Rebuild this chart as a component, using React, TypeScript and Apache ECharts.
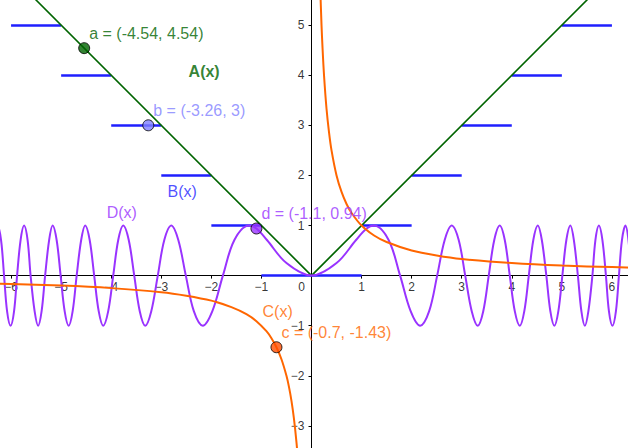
import React, { useEffect, useRef } from "react";
import * as echarts from "echarts";

// ---------- data ----------
// A(x) = |x|
const A_X = [-7, 0, 7];
const A_Y = [7, 0, 7];

// B(x): horizontal steps
const B_FROM = [-6, -5, -4, -3, -2, -1, 1, 2, 3, 4, 5];
const B_TO = [-5, -4, -3, -2, -1, 1, 2, 3, 4, 5, 6];
const B_LEVEL = [5, 4, 3, 2, 1, 0, 1, 2, 3, 4, 5];

// C(x): hyperbola, two branches
const C_LEFT_X = [-7, -6, -5, -4, -3, -2.5, -2, -1.6, -1.3, -1.1, -0.9, -0.8, -0.7, -0.6, -0.5, -0.45, -0.4, -0.35, -0.3, -0.27, -0.25];
const C_LEFT_Y = [-0.14, -0.17, -0.2, -0.25, -0.33, -0.4, -0.5, -0.63, -0.77, -0.91, -1.11, -1.25, -1.43, -1.67, -2, -2.22, -2.5, -2.86, -3.33, -3.7, -4];
const C_RIGHT_X = [0.17, 0.2, 0.22, 0.25, 0.3, 0.35, 0.4, 0.5, 0.6, 0.7, 0.8, 1, 1.25, 1.5, 2, 2.5, 3, 4, 5, 6, 7];
const C_RIGHT_Y = [5.88, 5, 4.55, 4, 3.33, 2.86, 2.5, 2, 1.67, 1.43, 1.25, 1, 0.8, 0.67, 0.5, 0.4, 0.33, 0.25, 0.2, 0.17, 0.14];

// D(x): oscillation, left half (x < 0), read point by point
const D_LEFT_X = [
  -6.51, -6.45, -6.39, -6.33, -6.27, -6.2, -6.14, -6.08, -6.01, -5.94, -5.88, -5.81, -5.74, -5.67, -5.61, -5.53,
  -5.46, -5.39, -5.32, -5.24, -5.17, -5.09, -5.01, -4.93, -4.85, -4.77, -4.69, -4.6, -4.52, -4.43, -4.34, -4.25,
  -4.16, -4.06, -3.96, -3.86, -3.76, -3.65, -3.54, -3.43, -3.32, -3.2, -3.07, -2.94, -2.8, -2.66, -2.51, -2.35,
  -2.17, -1.98, -1.77, -1.54, -1.25, -1.1, -0.89, -0.5,
];
const D_LEFT_Y = [
  -1, -0.71, 0, 0.71, 1, 0.71, 0, -0.71, -1, -0.71, 0, 0.71, 1, 0.71, 0, -0.71,
  -1, -0.71, 0, 0.71, 1, 0.71, 0, -0.71, -1, -0.71, 0, 0.71, 1, 0.71, 0, -0.71,
  -1, -0.71, 0, 0.71, 1, 0.71, 0, -0.71, -1, -0.71, 0, 0.71, 1, 0.71, 0, -0.71,
  -1, -0.71, 0, 0.71, 1, 0.94, 0.71, 0.25,
];
// D(x): centre and right half (x >= 0)
const D_RIGHT_X = [
  0, 0.5, 0.89, 1.1, 1.25, 1.54, 1.77, 1.98, 2.17, 2.35, 2.51, 2.66, 2.8, 2.94, 3.07, 3.2,
  3.32, 3.43, 3.54, 3.65, 3.76, 3.86, 3.96, 4.06, 4.16, 4.25, 4.34, 4.43, 4.52, 4.6, 4.69, 4.77,
  4.85, 4.93, 5.01, 5.09, 5.17, 5.24, 5.32, 5.39, 5.46, 5.53, 5.61, 5.67, 5.74, 5.81, 5.88, 5.94,
  6.01, 6.08, 6.14, 6.2, 6.27, 6.33, 6.39, 6.45, 6.51,
];
const D_RIGHT_Y = [
  0, 0.25, 0.71, 0.94, 1, 0.71, 0, -0.71, -1, -0.71, 0, 0.71, 1, 0.71, 0, -0.71,
  -1, -0.71, 0, 0.71, 1, 0.71, 0, -0.71, -1, -0.71, 0, 0.71, 1, 0.71, 0, -0.71,
  -1, -0.71, 0, 0.71, 1, 0.71, 0, -0.71, -1, -0.71, 0, 0.71, 1, 0.71, 0, -0.71,
  -1, -0.71, 0, 0.71, 1, 0.71, 0, -0.71, -1,
];

// axis tick labels
const X_TICKS = [-6, -5, -4, -3, -2, -1, 0, 1, 2, 3, 4, 5, 6];
const Y_TICKS = [-3, -2, -1, 1, 2, 3, 4, 5];

// named points
const POINT_NAMES = ["a", "b", "c", "d"];
const POINT_X = [-4.54, -3.26, -0.7, -1.1];
const POINT_Y = [4.54, 3, -1.43, 0.94];

// function name labels (anchor = left/middle of the text)
const FN_NAMES = ["A(x)", "B(x)", "C(x)", "D(x)"];
const FN_X = [-2.455, -2.874, -0.978, -4.09];
const FN_Y = [4.07, 1.68, -0.725, 1.25];

// ---------- styles ----------
const GREEN = "#006400";
const BLUE = "#1f1fff";
const ORANGE = "#ff6600";
const PURPLE = "#9933ff";
const POINT_FILL = [GREEN, "#7f7fff", "#ff4d00", PURPLE];
const POINT_TEXT = [GREEN, "#7f7fff", ORANGE, PURPLE];
const FN_COLOR = [GREEN, BLUE, ORANGE, PURPLE];
const FN_BOLD = [true, false, false, false];
const FONT = "'Liberation Sans', Arial, sans-serif";

// canvas geometry: the visible 628x448 window is a crop of a larger plot
const UNIT_X = 50.1;
const UNIT_Y = 50.05;
const ORIGIN_PX = 312;
const ORIGIN_PY = 275.7;
const X_MIN = -7, X_MAX = 7, Y_MIN = -4, Y_MAX = 6;

const zip = (xs: number[], ys: number[]) => xs.map((x, i) => [x, ys[i]]);
const fmtTick = (v: number) => (v < 0 ? "\u2212" + Math.abs(v) : String(v));

export default function App() {
  const ref = useRef<HTMLDivElement>(null);

  useEffect(() => {
    if (!ref.current) return;
    const chart = echarts.init(ref.current, null, { renderer: "svg" });

    const axisCommon = {
      type: "value",
      interval: 1,
      splitLine: { show: false },
      axisLine: { show: true, onZero: true, lineStyle: { color: "#000", width: 1 } },
      axisTick: { show: true, inside: false, length: 3, lineStyle: { color: "#000" } },
      axisLabel: { show: false },
    };

    const option: any = {
      animation: false,
      backgroundColor: "#ffffff",
      grid: { left: 0, right: 0, top: 0, bottom: 0, containLabel: false, outerBoundsMode: "none" },
      xAxis: { ...axisCommon, min: X_MIN, max: X_MAX },
      yAxis: { ...axisCommon, min: Y_MIN, max: Y_MAX },
      series: [
        {
          type: "lines",
          coordinateSystem: "cartesian2d",
          z: 2,
          lineStyle: { color: BLUE, width: 2.5, opacity: 1 },
          data: B_FROM.map((x0, i) => ({ coords: [[x0, B_LEVEL[i]], [B_TO[i], B_LEVEL[i]]] })),
        },
        {
          type: "line",
          z: 3,
          data: zip(A_X, A_Y),
          showSymbol: false,
          lineStyle: { color: GREEN, width: 1.6 },
        },
        {
          type: "line",
          z: 4,
          data: zip(D_LEFT_X.concat(D_RIGHT_X), D_LEFT_Y.concat(D_RIGHT_Y)),
          smooth: 0.35,
          showSymbol: false,
          lineStyle: { color: PURPLE, width: 2 },
        },
        {
          type: "line",
          z: 5,
          data: zip(C_LEFT_X, C_LEFT_Y),
          smooth: 0.3,
          showSymbol: false,
          lineStyle: { color: ORANGE, width: 2 },
        },
        {
          type: "line",
          z: 5,
          data: zip(C_RIGHT_X, C_RIGHT_Y),
          smooth: 0.3,
          showSymbol: false,
          lineStyle: { color: ORANGE, width: 2 },
        },
        // x tick labels
        {
          type: "scatter",
          z: 1,
          symbolSize: 0,
          silent: true,
          data: X_TICKS.map((v) => ({
            value: [v, 0],
            label: {
              show: true,
              position: "bottom",
              distance: 5,
              offset: [v === 0 ? -10 : 0, 0],
              formatter: fmtTick(v),
              color: "#000",
              fontSize: 12,
              fontFamily: FONT,
            },
          })),
        },
        // y tick labels
        {
          type: "scatter",
          z: 1,
          symbolSize: 0,
          silent: true,
          data: Y_TICKS.map((v) => ({
            value: [0, v],
            label: {
              show: true,
              position: "left",
              distance: 7,
              formatter: fmtTick(v),
              color: "#000",
              fontSize: 12,
              fontFamily: FONT,
            },
          })),
        },
        {
          type: "scatter",
          z: 6,
          symbolSize: 0,
          silent: true,
          data: FN_NAMES.map((n, i) => ({
            value: [FN_X[i], FN_Y[i]],
            name: n,
            label: {
              show: true,
              position: "right",
              distance: 0,
              formatter: n,
              color: FN_COLOR[i],
              fontSize: 16,
              fontWeight: FN_BOLD[i] ? "bold" : "normal",
              fontFamily: FONT,
            },
          })),
        },
        {
          type: "scatter",
          z: 10,
          symbol: "circle",
          symbolSize: 11,
          data: POINT_NAMES.map((n, i) => ({
            value: [POINT_X[i], POINT_Y[i]],
            name: n,
            itemStyle: { color: POINT_FILL[i], borderColor: "#000", borderWidth: 1 },
            label: {
              show: true,
              position: "right",
              distance: 0,
              offset: [-1, -15],
              formatter: `${n} = (${POINT_X[i]}, ${POINT_Y[i]})`,
              color: POINT_TEXT[i],
              fontSize: 16,
              fontFamily: FONT,
            },
          })),
        },
      ],
    };

    chart.setOption(option);
    return () => chart.dispose();
  }, []);

  const w = (X_MAX - X_MIN) * UNIT_X;
  const h = (Y_MAX - Y_MIN) * UNIT_Y;
  return (
    <div
      ref={ref}
      style={{
        position: "fixed",
        left: ORIGIN_PX + X_MIN * UNIT_X,
        top: ORIGIN_PY - Y_MAX * UNIT_Y,
        width: w,
        height: h,
        background: "#fff",
      }}
    />
  );
}
